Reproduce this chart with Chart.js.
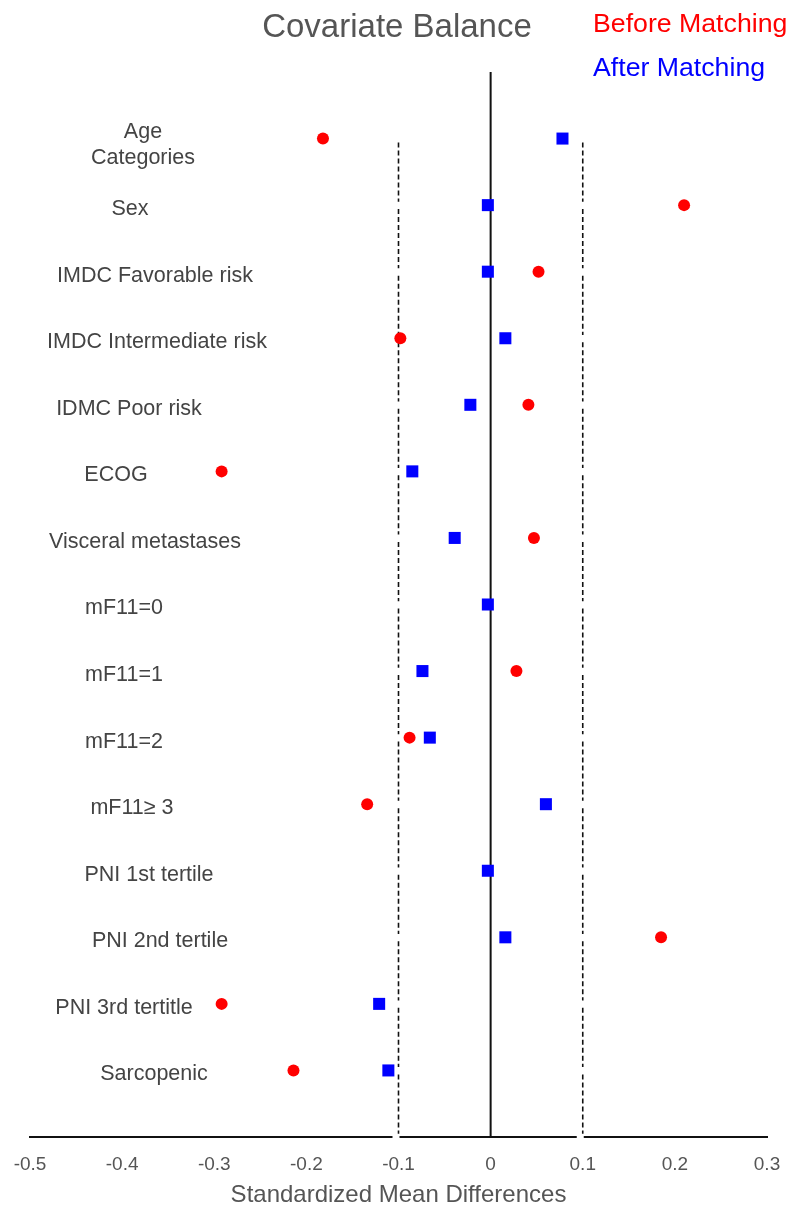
<!DOCTYPE html>
<html>
<head>
<meta charset="utf-8">
<script src="https://cdn.jsdelivr.net/npm/chart.js@4.4.1/dist/chart.umd.min.js"></script>
<style>
  html, body { margin: 0; padding: 0; background: #fff; }
  #wrap { width: 792px; height: 1211px; position: relative; }
</style>
</head>
<body>
<div id="wrap"><canvas id="balanceChart" width="792" height="1211"></canvas></div>
<script>
const covariates = [
    ['Age', 'Categories'],
    'Sex',
    'IMDC Favorable risk',
    'IMDC Intermediate risk',
    'IDMC Poor risk',
    'ECOG',
    'Visceral metastases',
    'mF11=0',
    'mF11=1',
    'mF11=2',
    'mF11\u2265 3',
    'PNI 1st tertile',
    'PNI 2nd tertile',
    'PNI 3rd tertitle',
    'Sarcopenic'
];
const beforeMatching = [-0.182, 0.210, 0.052, -0.098, 0.041, -0.292, 0.047, null, 0.028, -0.088, -0.134, null, 0.185, -0.292, -0.214];
const afterMatching = [0.078, -0.003, -0.003, 0.016, -0.022, -0.085, -0.039, -0.003, -0.074, -0.066, 0.060, -0.003, 0.016, -0.121, -0.111];
const xTicks = [-0.5, -0.4, -0.3, -0.2, -0.1, 0, 0.1, 0.2, 0.3];
const thresholds = [-0.1, 0.1];

// label placement (text only, roughly where the original put each one)
const labelCenterX = [143, 130, 155, 157, 129, 116, 145, 124, 124, 124, 132, 149, 160, 124, 154];

const FONT = '"Liberation Sans", Arial, Helvetica, sans-serif';
const rows = covariates.length + 1;

const toPoints = (values) => values
    .map((v, i) => (v === null ? null : { x: v, y: i + 1 }))
    .filter(p => p !== null);

// dashed guide is broken into one piece per row, like the original
const guideSegments = (t) => {
    const pts = [];
    covariates.forEach((_, i) => {
        pts.push({ x: t, y: i + 1.06 }, { x: t, y: i + 1.95 }, { x: t, y: null });
    });
    return pts;
};

const datasets = [
    {
        label: 'After Matching',
        data: toPoints(afterMatching),
        showLine: false,
        pointStyle: 'rect',
        pointRadius: 8.5,
        pointBackgroundColor: '#0000ff',
        pointBorderWidth: 0
    },
    {
        label: 'Before Matching',
        data: toPoints(beforeMatching),
        showLine: false,
        pointStyle: 'circle',
        pointRadius: 6,
        pointBackgroundColor: '#ff0000',
        pointBorderWidth: 0
    },
    {
        label: 'zero',
        type: 'line',
        data: [{ x: 0, y: 0 }, { x: 0, y: rows }],
        borderColor: '#111',
        borderWidth: 2,
        pointRadius: 0
    },
    ...thresholds.map(t => ({
        label: 'threshold ' + t,
        type: 'line',
        data: guideSegments(t),
        spanGaps: false,
        borderColor: '#111',
        borderWidth: 1.6,
        borderDash: [5, 3],
        pointRadius: 0
    }))
];

const textPlugin = {
    id: 'textPlugin',
    afterDraw(chart) {
        const ctx = chart.ctx;
        const y = chart.scales.y;
        const x = chart.scales.x;
        ctx.save();

        // small breaks in the axis line where the dashed guides meet it
        ctx.fillStyle = '#fff';
        thresholds.forEach(t => {
            const px = x.getPixelForValue(t);
            ctx.fillRect(px - 6, chart.chartArea.bottom - 3, 7, 6);
        });

        ctx.textAlign = 'center';
        ctx.textBaseline = 'middle';

        ctx.fillStyle = '#555';
        ctx.font = `33px ${FONT}`;
        ctx.fillText('Covariate Balance', 397, 28);

        ctx.textAlign = 'left';
        ctx.font = `26.7px ${FONT}`;
        ctx.fillStyle = '#ff0000';
        ctx.fillText('Before Matching', 593, 25);
        ctx.fillStyle = '#0000ff';
        ctx.fillText('After Matching', 593, 69);

        ctx.textAlign = 'center';
        ctx.fillStyle = '#444';
        ctx.font = `21.5px ${FONT}`;
        covariates.forEach((name, i) => {
            const py = y.getPixelForValue(i + 1);
            if (Array.isArray(name)) {
                ctx.fillText(name[0], labelCenterX[i], py - 6);
                ctx.fillText(name[1], labelCenterX[i], py + 20);
            } else {
                ctx.fillText(name, labelCenterX[i], py + 4);
            }
        });
        ctx.restore();
    }
};

const ctx = document.getElementById('balanceChart').getContext('2d');
new Chart(ctx, {
    type: 'scatter',
    data: { datasets },
    options: {
        responsive: false,
        animation: false,
        layout: { padding: { top: 72, left: 30, right: 25, bottom: 0 } },
        plugins: {
            legend: { display: false },
            title: { display: false },
            tooltip: { enabled: false }
        },
        scales: {
            x: {
                type: 'linear',
                min: -0.5,
                max: 0.3,
                afterBuildTicks: (scale) => {
                    scale.ticks = xTicks.map(v => ({ value: v }));
                },
                afterFit: (scale) => {
                    scale.height = 74;
                    scale.paddingLeft = 0;
                    scale.paddingRight = 0;
                },
                grid: { display: false, drawTicks: false },
                border: { display: true, color: '#111', width: 2 },
                ticks: {
                    color: '#555',
                    padding: 16,
                    font: { family: FONT, size: 19 },
                    callback: (v) => (v === 0 ? '0' : String(Math.round(v * 10) / 10))
                },
                title: {
                    display: true,
                    text: 'Standardized Mean Differences',
                    color: '#555',
                    font: { family: FONT, size: 24 },
                    padding: { top: 0, bottom: 1 }
                }
            },
            y: {
                type: 'linear',
                display: false,
                reverse: true,
                min: 0,
                max: rows
            }
        }
    },
    plugins: [textPlugin]
});
</script>
</body>
</html>
